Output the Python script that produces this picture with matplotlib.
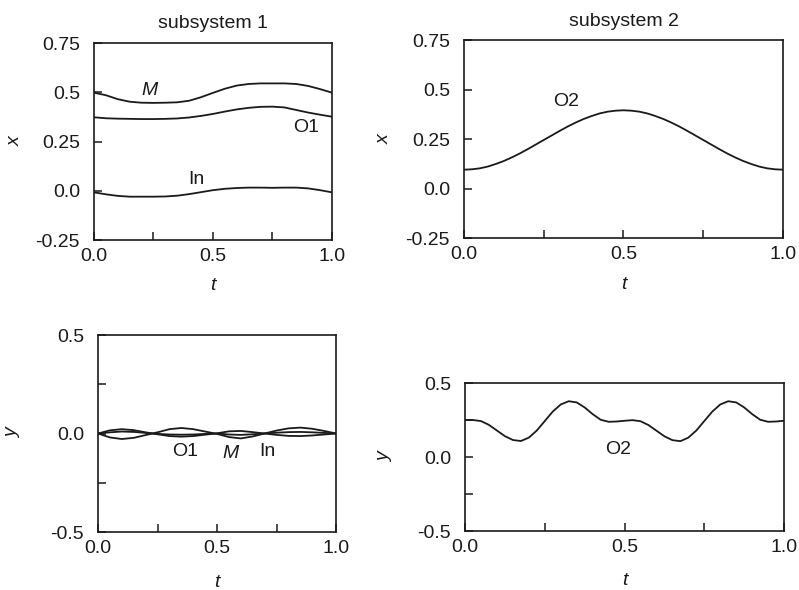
import numpy as np
import matplotlib
matplotlib.use("Agg")
from matplotlib import pyplot as plt
from matplotlib.ticker import FixedLocator

plt.rcParams['font.family'] = ['Liberation Sans', 'DejaVu Sans']

# time grids
t21 = [i * 0.05 for i in range(21)]
t41 = [i * 0.025 for i in range(41)]

# subsystem 1, x states
x1_M = [0.498, 0.485, 0.465, 0.452, 0.447, 0.446, 0.447, 0.449, 0.457, 0.475, 0.497,
        0.518, 0.534, 0.542, 0.545, 0.545, 0.545, 0.542, 0.532, 0.516, 0.498]
x1_O1 = [0.373, 0.368, 0.366, 0.365, 0.364, 0.364, 0.365, 0.367, 0.372, 0.380, 0.390,
         0.402, 0.413, 0.421, 0.426, 0.427, 0.423, 0.410, 0.397, 0.386, 0.376]
x1_In = [-0.008, -0.018, -0.026, -0.030, -0.030, -0.030, -0.029, -0.025, -0.017, -0.007, 0.003,
         0.010, 0.014, 0.016, 0.016, 0.015, 0.016, 0.016, 0.012, 0.003, -0.008]

# subsystem 2, x state
x2_O2 = [0.095, 0.097, 0.102, 0.111, 0.124, 0.139, 0.157, 0.177, 0.199, 0.222, 0.245,
         0.268, 0.291, 0.313, 0.333, 0.351, 0.366, 0.379, 0.388, 0.393, 0.395,
         0.393, 0.388, 0.379, 0.366, 0.351, 0.333, 0.313, 0.291, 0.268, 0.245,
         0.222, 0.199, 0.177, 0.157, 0.139, 0.124, 0.111, 0.102, 0.097, 0.095]

# subsystem 1, y states
y1_O1 = [0.0, -0.020, -0.028, -0.022, -0.008, 0.006, 0.022, 0.028, 0.022, 0.010, -0.002,
         -0.018, -0.025, -0.015, 0.0, 0.015, 0.026, 0.030, 0.024, 0.013, 0.0]
y1_M = [0.0, 0.016, 0.022, 0.017, 0.006, -0.004, -0.013, -0.016, -0.013, -0.006, 0.001,
        0.011, 0.013, 0.007, 0.0, -0.007, -0.012, -0.013, -0.010, -0.005, 0.0]
y1_In = [0.0, 0.006, 0.010, 0.008, 0.003, -0.002, -0.005, -0.006, -0.005, -0.002, 0.0,
         -0.005, -0.007, -0.004, 0.0, 0.004, 0.007, 0.008, 0.006, 0.003, 0.0]

# subsystem 2, y state
y2_O2 = [0.250, 0.250, 0.243, 0.217, 0.179, 0.141, 0.115, 0.108, 0.131, 0.179, 0.243,
         0.307, 0.355, 0.377, 0.369, 0.335, 0.290, 0.252, 0.238, 0.240, 0.245,
         0.249, 0.242, 0.216, 0.178, 0.140, 0.114, 0.107, 0.131, 0.179, 0.243,
         0.307, 0.355, 0.377, 0.369, 0.335, 0.290, 0.252, 0.238, 0.240, 0.245]

ink = '#1a1a1a'
fs = 14

fig = plt.figure(figsize=(7.99, 5.90), dpi=100)

def style(ax, ymin, ymax, ymajor, ylabels, yminor, ylab, lx, ty):
    ax.set_xlim(0, 1)
    ax.set_ylim(ymin, ymax)
    ax.set_xticks([0, 0.5, 1.0])
    ax.set_xticklabels(['0.0', '0.5', '1.0'])
    ax.xaxis.set_minor_locator(FixedLocator([0.25, 0.75]))
    ax.set_yticks(ymajor)
    ax.set_yticklabels(ylabels)
    ax.yaxis.set_minor_locator(FixedLocator(yminor))
    ax.tick_params(which='both', direction='in', length=6, width=1.1, color=ink,
                   labelsize=fs, labelcolor=ink, top=False, right=False)
    ax.tick_params(axis='y', pad=10)
    ax.tick_params(axis='x', pad=6)
    for s in ax.spines.values():
        s.set_linewidth(1.2)
        s.set_color(ink)
    ax.set_xlabel('t', fontsize=fs, style='italic', color=ink)
    ax.set_ylabel(ylab, fontsize=fs, style='italic', color=ink, rotation=90)
    ax.yaxis.set_label_coords(lx, 0.5)
    ax.xaxis.set_label_coords(0.5, ty)

kw = dict(color=ink, lw=1.3)

# top left
ax1 = fig.add_axes([0.1176, 0.5932, 0.2979, 0.3339])
ax1.plot(t21, x1_M, **kw)
ax1.plot(t21, x1_O1, **kw)
ax1.plot(t21, x1_In, **kw)
style(ax1, -0.25, 0.75, [-0.25, 0, 0.25, 0.5, 0.75], ['-0.25', '0.0', '0.25', '0.5', '0.75'],
      [], 'x', -0.295, -0.188)
ax1.text(0.235, 0.51, 'M', fontsize=fs, style='italic', color=ink, ha='center', va='center')
ax1.text(0.89, 0.32, 'O1', fontsize=fs, color=ink, ha='center', va='center')
ax1.text(0.43, 0.055, 'In', fontsize=fs, color=ink, ha='center', va='center')
ax1.set_title('subsystem 1', fontsize=fs, color=ink, pad=11)

# top right
ax2 = fig.add_axes([0.5807, 0.5966, 0.3993, 0.3356])
ax2.plot(t41, x2_O2, **kw)
style(ax2, -0.25, 0.75, [-0.25, 0, 0.25, 0.5, 0.75], ['-0.25', '0.0', '0.25', '0.5', '0.75'],
      [], 'x', -0.223, -0.192)
ax2.text(0.32, 0.438, 'O2', fontsize=fs, color=ink, ha='center', va='center')
ax2.set_title('subsystem 2', fontsize=fs, color=ink, pad=10)

# bottom left
ax3 = fig.add_axes([0.1227, 0.0983, 0.2979, 0.3339])
ax3.plot(t21, y1_O1, **kw)
ax3.plot(t21, y1_M, **kw)
ax3.plot(t21, y1_In, **kw)
style(ax3, -0.5, 0.5, [-0.5, 0, 0.5], ['-0.5', '0.0', '0.5'], [-0.25, 0.25],
      'y', -0.324, -0.213)
ax3.text(0.365, -0.092, 'O1', fontsize=fs, color=ink, ha='center', va='center')
ax3.text(0.555, -0.10, 'M', fontsize=fs, style='italic', color=ink, ha='center', va='center')
ax3.text(0.71, -0.092, 'In', fontsize=fs, color=ink, ha='center', va='center')

# bottom right
ax4 = fig.add_axes([0.582, 0.1, 0.3993, 0.2508])
ax4.plot(t41, y2_O2, **kw)
style(ax4, -0.5, 0.5, [-0.5, 0, 0.5], ['-0.5', '0.0', '0.5'], [-0.25, 0.25],
      'y', -0.226, -0.277)
ax4.text(0.48, 0.05, 'O2', fontsize=fs, color=ink, ha='center', va='center')

fig.savefig('out.png', dpi=100)
